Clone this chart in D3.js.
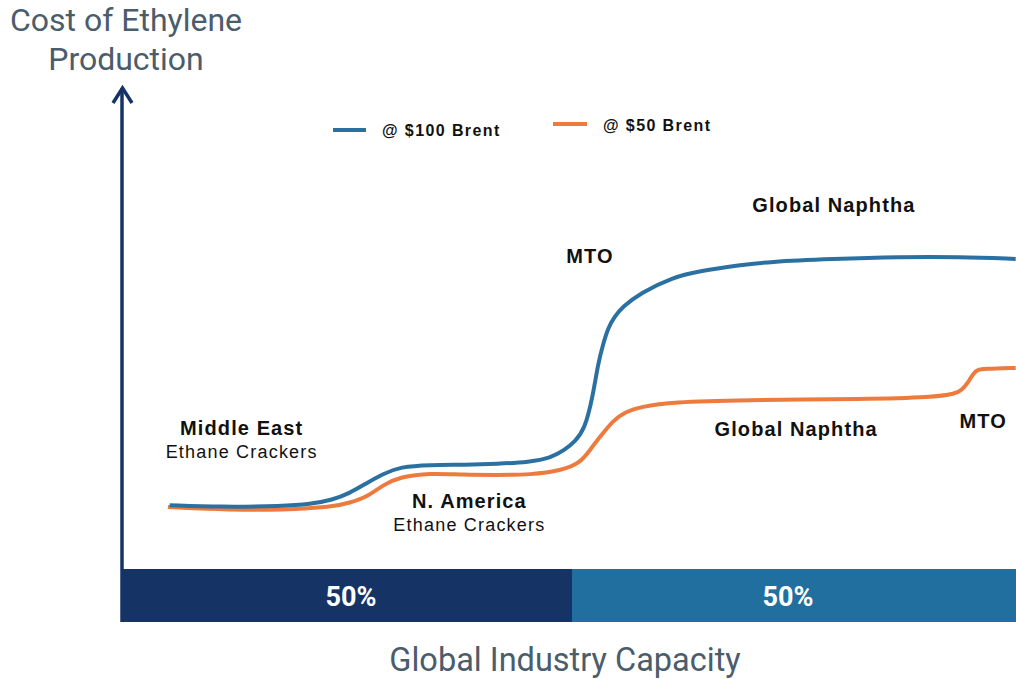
<!DOCTYPE html>
<html><head><meta charset="utf-8">
<script src="https://cdn.jsdelivr.net/npm/d3@7"></script>
<style>html,body{margin:0;padding:0;background:#fff;overflow:hidden}</style>
</head><body>
<svg id="chart" width="1016" height="679"></svg>
<script>
// Capacity (% of global) and cost (relative index)
const brent100X = [5.3,10.9,17.9,20.9,23.4,25.3,27.2,29.0,30.9,34.2,38.1,41.7,45.3,47.6,49.2,50.3,51.4,52.3,52.9,53.5,54.0,54.7,55.6,57.6,61.2,64.2,68.7,71.7,79.0,86.4,93.1,99.3];
const brent100Y = [13.3,12.9,13.1,13.5,14.4,15.8,17.9,19.8,21.3,21.7,21.7,21.9,22.3,23.1,24.8,26.5,29.0,35.8,42.9,47.1,50.2,52.5,54.6,57.5,60.8,62.1,63.3,64.0,64.6,65.0,65.0,64.6];
const brent50X = [5.1,12.0,17.9,23.4,25.3,27.2,29.0,30.9,34.2,37.9,41.7,45.3,49.0,50.9,52.0,53.1,54.6,55.9,57.6,61.2,68.7,82.8,90.1,92.6,93.3,94.0,94.6,95.1,95.7,99.3];
const brent50Y = [12.9,12.3,12.3,12.9,13.8,15.0,17.5,19.2,20.0,19.6,19.6,19.6,20.6,22.1,24.8,27.5,31.0,32.7,33.8,34.8,35.2,35.4,35.8,36.5,37.3,38.8,40.8,41.5,41.7,41.9];
const seriesNames = ["@ $100 Brent", "@ $50 Brent"];
const capacitySegments = ["50%", "50%"];
const segmentShares = [50, 50];
// annotations: [label lines, capacity, cost]
const annotationLines = [["Middle East","Ethane Crackers"],["N. America","Ethane Crackers"],["MTO"],["Global Naphtha"],["Global Naphtha"],["MTO"]];
const annotationX = [13.3, 38.6, 52.0, 79.1, 74.9, 95.7];
const annotationY = [27.9, 12.7, 63.8, 74.4, 27.7, 29.4];

const svg = d3.select("#chart");
const x = d3.scaleLinear().domain([0,100]).range([122,1022]);
const y = d3.scaleLinear().domain([0,100]).range([569,89]);

const navy = "#163366", teal = "#216f9e", blue = "#2a71a2", orange = "#ee7b3e", slate = "#4b5c6b";

// capacity bars
let acc = 0;
segmentShares.forEach((s,i)=>{
  const x0 = x(acc), x1 = x(acc+s);
  svg.append("rect").attr("x",x0).attr("y",569).attr("width",x1-x0).attr("height",53)
    .attr("fill", i===0?navy:teal);
  svg.append("text").attr("x",(x0+Math.min(x1,1012))/2 - (i===0?-4:4)).attr("y",606)
    .attr("text-anchor","middle").attr("fill","#fff")
    .style("font-family","Roboto").style("font-weight","bold").style("font-size","27px")
    .text(capacitySegments[i]);
  acc += s;
});

// y axis with arrow
svg.append("line").attr("x1",122).attr("x2",122).attr("y1",88).attr("y2",622)
  .attr("stroke",navy).attr("stroke-width",3.5);
svg.append("path").attr("d","M113,103 L122.5,88 L132,103").attr("fill","none")
  .attr("stroke",navy).attr("stroke-width",3.5).attr("stroke-linejoin","miter");

// titles
svg.append("text").attr("x",126).attr("y",31).attr("text-anchor","middle").attr("fill",slate)
  .style("font-family","Roboto").style("font-size","32px").text("Cost of Ethylene");
svg.append("text").attr("x",126).attr("y",70).attr("text-anchor","middle").attr("fill",slate)
  .style("font-family","Roboto").style("font-size","32px").text("Production");
svg.append("text").attr("x",565).attr("y",671).attr("text-anchor","middle").attr("fill",slate)
  .style("font-family","Roboto").style("font-size","32.5px").text("Global Industry Capacity");

// lines
const line = d3.line().x(d=>x(d[0])).y(d=>y(d[1])).curve(d3.curveBasis);
const s100 = brent100X.map((v,i)=>[v,brent100Y[i]]);
const s50 = brent50X.map((v,i)=>[v,brent50Y[i]]);
svg.append("path").datum(s50).attr("d",line).attr("fill","none").attr("stroke",orange).attr("stroke-width",4);
svg.append("path").datum(s100).attr("d",line).attr("fill","none").attr("stroke",blue).attr("stroke-width",4);

// legend
const legend = [{c:blue,x1:333,x2:366,ly:130,tx:382,ty:136},{c:orange,x1:553,x2:587,ly:124,tx:603,ty:131}];
legend.forEach((l,i)=>{
  svg.append("line").attr("x1",l.x1).attr("x2",l.x2).attr("y1",l.ly).attr("y2",l.ly)
    .attr("stroke",l.c).attr("stroke-width",4);
  svg.append("text").attr("x",l.tx).attr("y",l.ty).attr("fill","#111")
    .style("font-family","Liberation Sans, Arial").style("font-weight","bold").style("font-size","16px")
    .style("letter-spacing","1.4px").text(seriesNames[i]);
});

// annotations
annotationLines.forEach((lines,i)=>{
  const t = svg.append("text").attr("x",x(annotationX[i])).attr("y",y(annotationY[i]))
    .attr("text-anchor","middle").attr("fill","#111").style("font-family","Liberation Sans, Arial");
  lines.forEach((ln,j)=>{
    t.append("tspan").attr("x",x(annotationX[i])).attr("dy", j===0?0:23)
      .style("font-weight", j===0?"bold":"normal")
      .style("font-size", j===0?"20px":"18px")
      .style("letter-spacing", j===0?"1.1px":"1.2px")
      .text(ln);
  });
});
</script>
</body></html>
